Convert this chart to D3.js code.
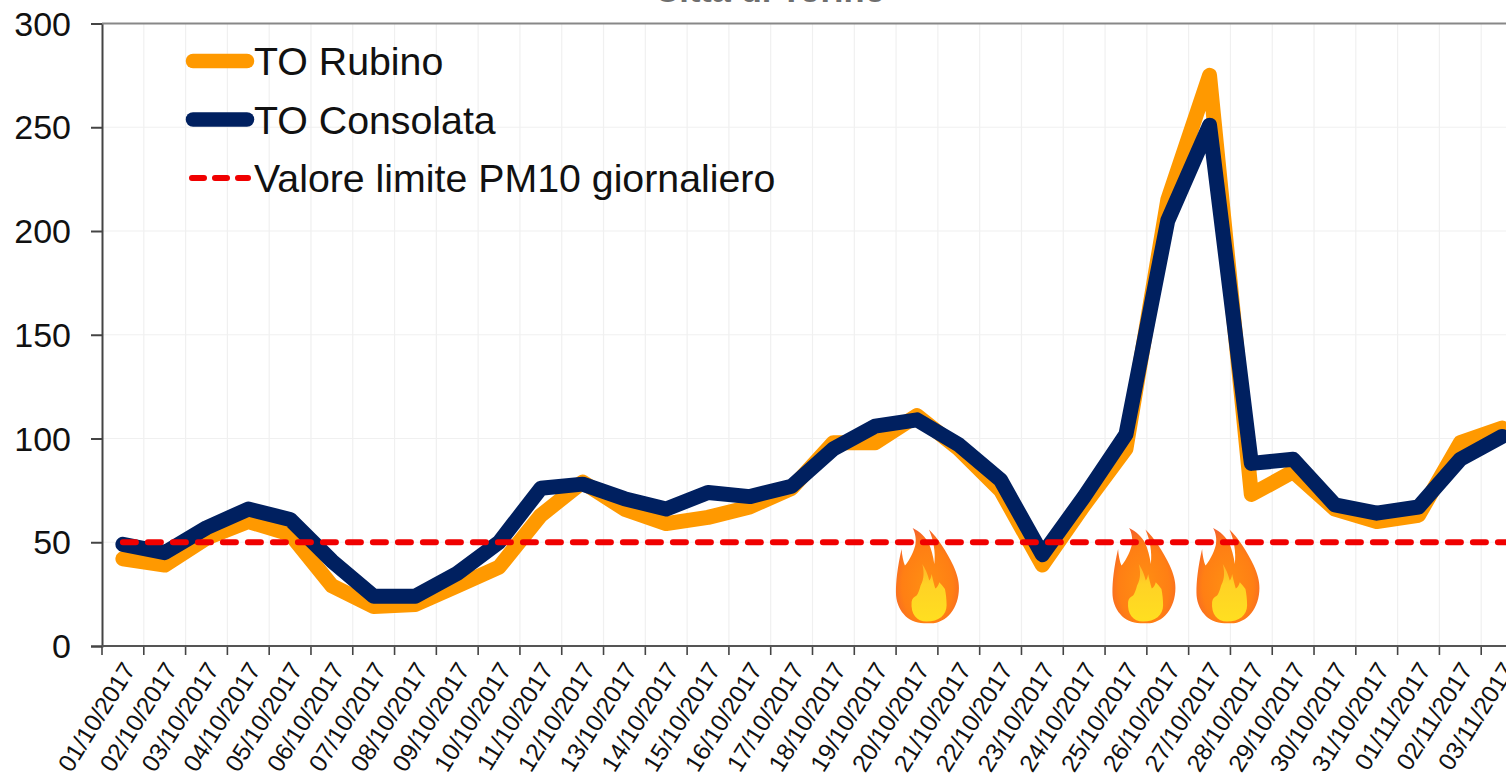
<!DOCTYPE html>
<html>
<head>
<meta charset="utf-8">
<script src="https://cdn.jsdelivr.net/npm/d3@7"></script>
<style>
html,body{margin:0;padding:0;background:#fff;overflow:hidden}
svg{display:block}
text{font-family:"Liberation Sans",Arial,sans-serif;fill:#111}
</style>
</head>
<body>
<svg id="chart" width="1506" height="778"></svg>
<script>
// PM10 daily concentrations, Torino stations, autumn 2017
const days = ["01/10/2017","02/10/2017","03/10/2017","04/10/2017","05/10/2017","06/10/2017","07/10/2017","08/10/2017","09/10/2017","10/10/2017","11/10/2017","12/10/2017","13/10/2017","14/10/2017","15/10/2017","16/10/2017","17/10/2017","18/10/2017","19/10/2017","20/10/2017","21/10/2017","22/10/2017","23/10/2017","24/10/2017","25/10/2017","26/10/2017","27/10/2017","28/10/2017","29/10/2017","30/10/2017","31/10/2017","01/11/2017","02/11/2017","03/11/2017"];
const rubino = [42,39,52,60,54,29,19,20,29,38,63,79,66,59,62,67,76,98,98,111,95,75,39,68,95,215,275,73,84,66,60,63,98,105];
const consolata = [49,45,57,66,61,41,24,24,35,50,76,78,71,66,74,72,77,95,106,109,97,80,44,72,102,205,251,88,90,68,64,67,90,101];
const limitValue = 50;
const yTicks = [0,50,100,150,200,250,300];
const legendLabels = ["TO Rubino","TO Consolata","Valore limite PM10 giornaliero"];
const titleText = "Città di Torino";
// Fire episodes, given as fractional day index and PM10-axis height of the icon centre
const fireIndex = [19.75,24.93,26.94];
const fireLevel = 34;

const ORANGE = "#FF9900", NAVY = "#002060", RED = "#F00000";
const svg = d3.select("#chart");
const plot = {left:102, right:1523, top:23.5, bottom:646};

const x = d3.scaleBand().domain(days).range([plot.left, plot.right]);
const fireX = d3.scaleLinear().domain([0, days.length]).range([plot.left, plot.right]);
const y = d3.scaleLinear().domain([0,300]).range([plot.bottom, plot.top]);
const cx = d => x(d) + x.bandwidth()/2;

// Grid
const grid = svg.append("g");
grid.selectAll("line.h").data(yTicks.filter(v => v>0 && v<300)).join("line")
  .attr("x1",plot.left).attr("x2",1506).attr("y1",y).attr("y2",y)
  .attr("stroke","#f0f0f0").attr("stroke-width",1.2);
grid.selectAll("line.v").data(days.slice(1)).join("line")
  .attr("x1",d=>x(d)).attr("x2",d=>x(d)).attr("y1",plot.top).attr("y2",plot.bottom)
  .attr("stroke","#f0f0f0").attr("stroke-width",1.2);

// Title sits above the frame, mostly cut by the page edge
svg.append("text").attr("x",770).attr("y",2).attr("text-anchor","middle")
  .attr("font-size",34.5).attr("font-weight","bold").style("fill","#6e6e6e").text(titleText);

// Axes
const yAxis = d3.axisLeft(y).tickValues(yTicks).tickSize(11).tickPadding(20);
const gy = svg.append("g").attr("transform",`translate(${plot.left},0)`).call(yAxis);
gy.selectAll("text").attr("font-size",34).style("fill","#111").attr("dy","0.34em");
gy.selectAll("line,path").attr("stroke","#444").attr("stroke-width",2);

const xAxis = d3.axisBottom(x).tickSize(0).tickPadding(0);
const gx = svg.append("g").attr("transform",`translate(0,${plot.bottom})`).call(xAxis);
gx.selectAll("path").remove();
gx.selectAll(".tick line").remove();
gx.selectAll("line.mark").data(days).join("line").attr("class","mark")
  .attr("x1",d=>x(d)).attr("x2",d=>x(d)).attr("y1",0).attr("y2",9)
  .attr("stroke","#444").attr("stroke-width",1.6);
gx.selectAll(".tick text")
  .attr("font-size",24.5)
  .attr("text-anchor","end")
  .attr("dy","0.35em")
  .attr("transform","translate(6,19) rotate(-58)");

svg.append("line").attr("x1",plot.left).attr("x2",1506).attr("y1",plot.bottom).attr("y2",plot.bottom)
  .attr("stroke","#555").attr("stroke-width",2.2);
svg.append("line").attr("x1",plot.left).attr("x2",1506).attr("y1",plot.top).attr("y2",plot.top)
  .attr("stroke","#888").attr("stroke-width",2);

// Series
const line = d3.line().x((d,i)=>cx(days[i])).y(d=>y(d));
const drawSeries = (vals,color) => svg.append("path").attr("d",line(vals))
  .attr("fill","none").attr("stroke",color).attr("stroke-width",15)
  .attr("stroke-linejoin","round").attr("stroke-linecap","round");

// Flame icons, drawn in a 189x285 local box
const defs = svg.append("defs");
const outerGrad = defs.append("radialGradient").attr("id","fireOuter")
  .attr("cx","50%").attr("cy","60%").attr("r","62%");
outerGrad.append("stop").attr("offset","0%").attr("stop-color","#FF8F12");
outerGrad.append("stop").attr("offset","65%").attr("stop-color","#FF7F14");
outerGrad.append("stop").attr("offset","100%").attr("stop-color","#F4612C");
const innerGrad = defs.append("linearGradient").attr("id","fireInner")
  .attr("x1",0).attr("x2",0).attr("y1",0).attr("y2",1);
innerGrad.append("stop").attr("offset","0%").attr("stop-color","#FDB22A");
innerGrad.append("stop").attr("offset","35%").attr("stop-color","#FFD225");
innerGrad.append("stop").attr("offset","100%").attr("stop-color","#FFDF20");

const outerFlame = "M50,0 C72,10 90,30 97,43 C106,62 112,86 115,108 C120,74 112,34 99,5 C126,30 152,72 172,113 C184,140 189,160 189,180 C189,240 152,286 104,286 L84,286 C34,286 0,244 0,193 C0,160 4,120 17,63 C18,82 22,100 27,113 C36,104 52,76 58,52 C62,34 58,14 50,0 Z";
const innerFlame = "M79,108 C84,128 86,150 74,173 C70,188 66,198 62,203 C54,208 48,212 47,222 C44,258 62,281 92,281 C128,281 152,262 152,232 C152,214 150,198 147,183 C142,176 136,170 130,163 C128,172 124,178 118,182 C114,168 110,152 107,138 C106,148 103,154 100,158 C96,140 88,122 79,108 Z";

const fires = svg.append("g").selectAll("g").data(fireIndex).join("g")
  .attr("transform",d=>`translate(${fireX(d)},${y(fireLevel)}) scale(0.3333) translate(-94.5,-142.5)`);
fires.append("path").attr("d",outerFlame).attr("fill","url(#fireOuter)");
fires.append("path").attr("d",innerFlame).attr("fill","url(#fireInner)");

drawSeries(rubino,ORANGE);
drawSeries(consolata,NAVY);

// Daily limit runs across the whole period, on top of everything
svg.append("line").attr("x1",cx(days[0])).attr("x2",plot.right)
  .attr("y1",y(limitValue)).attr("y2",y(limitValue))
  .attr("stroke",RED).attr("stroke-width",6).attr("stroke-linecap","round")
  .attr("stroke-dasharray","13 12");
fires.raise();

// Legend
const legendY = d3.scalePoint().domain(legendLabels).range([61,178]);
const legend = svg.append("g");
legend.selectAll("text").data(legendLabels).join("text")
  .attr("x",254).attr("y",d=>legendY(d)).attr("dy","0.36em").attr("font-size",39.3).text(d=>d);
const legendColors = [ORANGE,NAVY];
legendColors.forEach((c,i)=>{
  legend.append("line").attr("x1",193).attr("x2",247)
    .attr("y1",legendY(legendLabels[i])).attr("y2",legendY(legendLabels[i]))
    .attr("stroke",c).attr("stroke-width",14.5).attr("stroke-linecap","round");
});
legend.append("line").attr("x1",192).attr("x2",248)
  .attr("y1",legendY(legendLabels[2])).attr("y2",legendY(legendLabels[2]))
  .attr("stroke",RED).attr("stroke-width",6).attr("stroke-linecap","round")
  .attr("stroke-dasharray","12 11");
</script>
</body>
</html>
